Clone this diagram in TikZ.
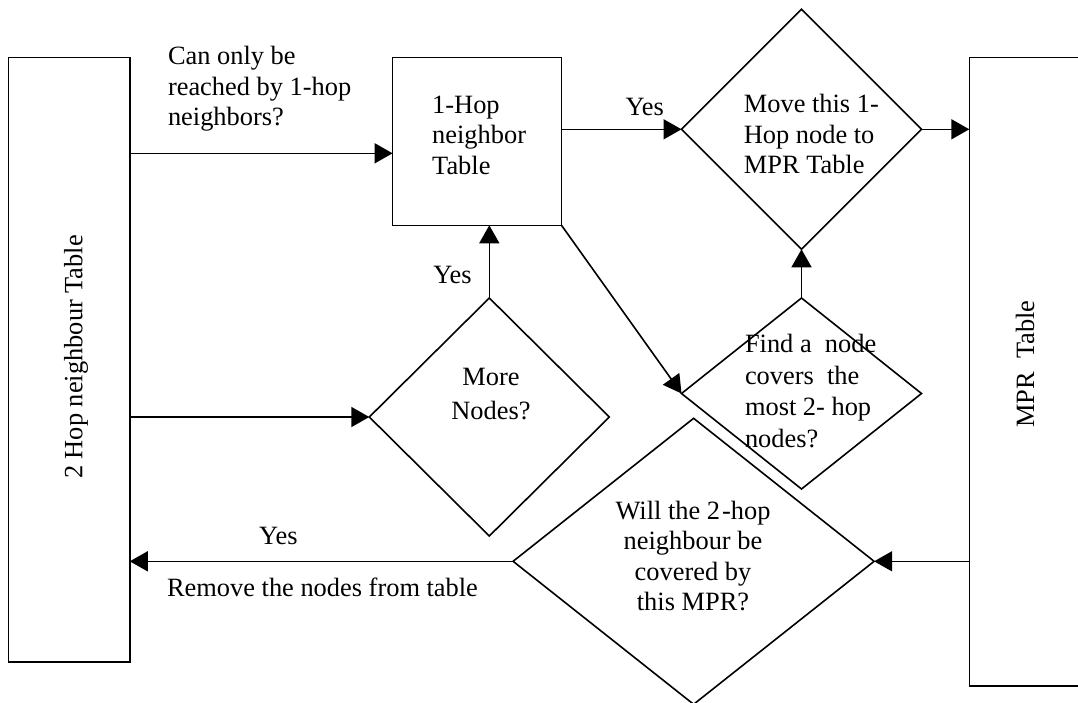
\documentclass[tikz,border=0pt]{standalone}
\usepackage{fontspec}
\setmainfont{Liberation Serif}
\usetikzlibrary{shapes.geometric,arrows.meta}

\begin{document}
\begin{tikzpicture}[x=1pt,y=-1pt,
  line width=1.6pt,
  every node/.style={font=\fontsize{26.4}{30.5}\selectfont, inner sep=0pt, outer sep=0pt},
  tablebox/.style={draw, rectangle},
  decision/.style={draw, diamond},
  arr/.style={-{Triangle[length=18pt,width=20pt]}},
  lefttext/.style={align=left, anchor=west},
  midtext/.style={align=center}
]
\useasboundingbox (0,0) rectangle (1078,702);
\clip (0,0) rectangle (1078,702);

% tables
\node[tablebox, minimum width=121.2pt, minimum height=604.4pt] (hop2) at (69.2,359.5) {};
\node[tablebox, minimum width=168.9pt, minimum height=168pt] (hop1) at (477.05,141.3) {};
\node[tablebox, minimum width=130.7pt, minimum height=628.4pt] (mpr) at (1034.65,371.5) {};

% decisions
\node[decision, minimum width=240pt, minimum height=240pt] (move) at (801.5,129.3) {};
\node[decision, minimum width=240pt, minimum height=191pt] (find) at (801.5,393.5) {};
\node[decision, minimum width=240pt, minimum height=238pt] (more) at (489.3,417) {};
\node[decision, minimum width=361pt, minimum height=286pt] (will) at (693.6,561.3) {};

% texts
\node[rotate=90] (hop2txt) at (76,357) {2 Hop neighbour Table};
\node[rotate=90] (mprtxt) at (1025,364) {MPR\ \ Table};
\node[lefttext] (hop1txt) at (432.2,135) {1-Hop\\neighbor\\Table};
\node[lefttext] (movetxt) at (743.9,134) {Move this 1-\\Hop node to\\MPR Table};
\node[lefttext, font=\fontsize{26.4}{31.7}\selectfont] (findtxt) at (745,391) {Find a\ \ node\\covers\ \ the\\most 2- hop\\nodes?};
\node[midtext, font=\fontsize{26.4}{33.3}\selectfont] (moretxt) at (491,394) {More\\Nodes?};
\node[midtext] (willtxt) at (693,556) {Will the 2\kern2pt-hop\\neighbour be\\covered by\\this MPR?};
\node[lefttext] (asktxt) at (168,89) {Can only be\\reached by 1-hop\\neighbors?};
\node (yes1) at (452.5,275) {Yes};
\node (yes2) at (644.7,106.7) {Yes};
\node (yes3) at (278.4,536.3) {Yes};
\node (removetxt) at (322.5,587) {Remove the nodes from table};

% connectors
\coordinate (askrow) at (0,153.3);
\draw[arr] (hop2.east |- askrow) -- (hop1.west |- askrow);
\draw[arr] (hop1.east |- move.west) -- (move.west);
\draw[arr] (move.east) -- (mpr.west |- move.east);
\draw[arr] (find.north) -- (move.south);
\draw[arr] (hop1.south east) -- (find.west);
\draw[arr] (hop2.east |- more.west) -- (more.west);
\draw[arr] (more.north) -- (more.north |- hop1.south);
\draw[arr] (mpr.west |- will.east) -- (will.east);
\draw[arr] (will.west) -- (hop2.east |- will.west);
\end{tikzpicture}
\end{document}
